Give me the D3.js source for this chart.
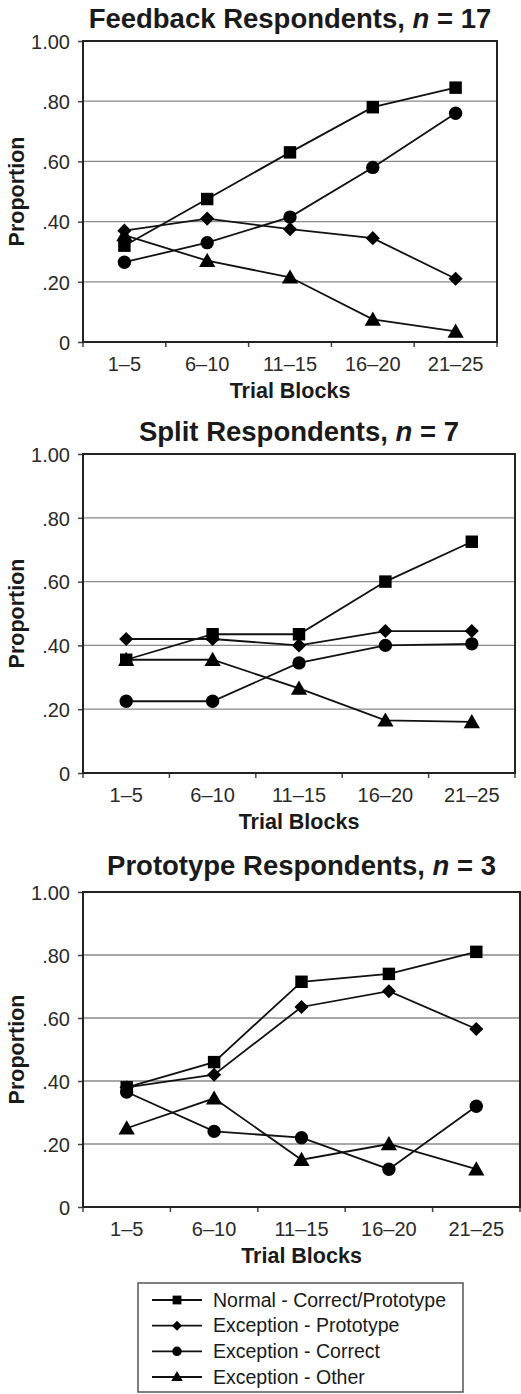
<!DOCTYPE html>
<html>
<head>
<meta charset="utf-8">
<script src="https://cdn.jsdelivr.net/npm/d3@7"></script>
<style>
  body { margin: 0; background: #fff; }
  svg { display: block; font-family: "Liberation Sans", Arial, sans-serif; }
</style>
</head>
<body>
<script>
// data
const blocks = ["1–5", "6–10", "11–15", "16–20", "21–25"];
const yTicks = [0, 0.2, 0.4, 0.6, 0.8, 1.0];
const yTickLabels = ["0", ".20", ".40", ".60", ".80", "1.00"];
const seriesNames = ["Normal - Correct/Prototype", "Exception - Prototype", "Exception - Correct", "Exception - Other"];

const feedbackNormal    = [0.32, 0.475, 0.63, 0.78, 0.845];
const feedbackExcProto  = [0.37, 0.41, 0.375, 0.345, 0.21];
const feedbackExcCorr   = [0.265, 0.33, 0.415, 0.58, 0.76];
const feedbackExcOther  = [0.355, 0.27, 0.215, 0.075, 0.035];

const splitNormal    = [0.355, 0.435, 0.435, 0.60, 0.725];
const splitExcProto  = [0.42, 0.42, 0.40, 0.445, 0.445];
const splitExcCorr   = [0.225, 0.225, 0.345, 0.40, 0.405];
const splitExcOther  = [0.355, 0.355, 0.265, 0.165, 0.16];

const protoNormal    = [0.38, 0.46, 0.715, 0.74, 0.81];
const protoExcProto  = [0.38, 0.42, 0.635, 0.685, 0.565];
const protoExcCorr   = [0.365, 0.24, 0.22, 0.12, 0.32];
const protoExcOther  = [0.25, 0.345, 0.15, 0.20, 0.12];

const panels = [
  { title: "Feedback Respondents,", n: "17", left: 83, right: 497, top: 41, bottom: 342, titleY: 28,
    series: [feedbackNormal, feedbackExcProto, feedbackExcCorr, feedbackExcOther] },
  { title: "Split Respondents,", n: "7", left: 83, right: 515, top: 454, bottom: 773, titleY: 441,
    series: [splitNormal, splitExcProto, splitExcCorr, splitExcOther] },
  { title: "Prototype Respondents,", n: "3", left: 83, right: 520, top: 892, bottom: 1207, titleY: 875,
    series: [protoNormal, protoExcProto, protoExcCorr, protoExcOther] }
];

const W = 521, H = 1394;
const ink = "#1a1a1a";

const svg = d3.select("body").append("svg")
  .attr("width", W)
  .attr("height", H);

// marker shapes: square, diamond, circle, triangle
const shapes = [
  s => d3.symbol(d3.symbolSquare, 155 * s)(),
  s => d3.symbol(d3.symbolSquare, 100 * s)(),
  s => d3.symbol(d3.symbolCircle, 140 * s)(),
  s => d3.symbol(d3.symbolTriangle, 115 * s)()
];
const rotations = [0, 45, 0, 0];
const triNudge = [0, 0, 0, 1.5];

panels.forEach(p => {
  const x = d3.scaleBand().domain(blocks).range([p.left, p.right]).padding(0);
  const y = d3.scaleLinear().domain([0, 1]).range([p.bottom, p.top]);
  const cx = d => x(d) + x.bandwidth() / 2;

  const g = svg.append("g");

  // gridlines
  g.append("g").selectAll("line")
    .data(yTicks.filter(v => v > 0 && v < 1))
    .join("line")
    .attr("x1", p.left).attr("x2", p.right)
    .attr("y1", d => y(d)).attr("y2", d => y(d))
    .attr("stroke", "#8a8a8a")
    .attr("stroke-width", 1.3);

  // y axis
  const yAxis = d3.axisLeft(y)
    .tickValues(yTicks)
    .tickFormat((d, i) => yTickLabels[i])
    .tickSize(5)
    .tickPadding(8);
  const ya = g.append("g")
    .attr("transform", `translate(${p.left},0)`)
    .call(yAxis);
  ya.select(".domain").remove();
  ya.selectAll("line").attr("stroke", "#444").attr("stroke-width", 1.5);
  ya.selectAll("text")
    .attr("font-size", 20)
    .attr("fill", "#2a2a2a")
    .attr("dy", "0.36em");

  // x axis labels at band centres
  const xAxis = d3.axisBottom(x).tickSize(0).tickPadding(15);
  const xa = g.append("g")
    .attr("transform", `translate(0,${p.bottom})`)
    .call(xAxis);
  xa.select(".domain").remove();
  xa.selectAll("text")
    .attr("font-size", 20)
    .attr("fill", "#2a2a2a");

  // x ticks at band boundaries
  const bounds = blocks.map(b => x(b)).concat([p.right]);
  g.append("g").selectAll("line")
    .data(bounds)
    .join("line")
    .attr("x1", d => d).attr("x2", d => d)
    .attr("y1", p.bottom).attr("y2", p.bottom + 5)
    .attr("stroke", "#444")
    .attr("stroke-width", 1.5);

  // frame
  g.append("rect")
    .attr("x", p.left).attr("y", p.top)
    .attr("width", p.right - p.left).attr("height", p.bottom - p.top)
    .attr("fill", "none")
    .attr("stroke", "#222")
    .attr("stroke-width", 2);

  // title
  const t = g.append("text")
    .attr("x", (p.left + p.right) / 2)
    .attr("y", p.titleY)
    .attr("text-anchor", "middle")
    .attr("font-size", 27.5)
    .attr("font-weight", "bold")
    .attr("fill", ink);
  t.append("tspan").text(p.title + "  ");
  t.append("tspan").attr("font-style", "italic").text("n");
  t.append("tspan").text(" = " + p.n);

  // axis titles
  g.append("text")
    .attr("x", (p.left + p.right) / 2)
    .attr("y", p.bottom + 56)
    .attr("text-anchor", "middle")
    .attr("font-size", 21.5)
    .attr("font-weight", "bold")
    .attr("fill", ink)
    .text("Trial Blocks");

  g.append("text")
    .attr("transform", `translate(24,${(p.top + p.bottom) / 2}) rotate(-90)`)
    .attr("text-anchor", "middle")
    .attr("font-size", 21.5)
    .attr("font-weight", "bold")
    .attr("fill", ink)
    .text("Proportion");

  // series lines and markers
  const line = d3.line()
    .x((d, i) => cx(blocks[i]))
    .y(d => y(d));

  p.series.forEach((vals, si) => {
    g.append("path")
      .datum(vals)
      .attr("d", line)
      .attr("fill", "none")
      .attr("stroke", "#111")
      .attr("stroke-width", 1.8);
  });

  p.series.forEach((vals, si) => {
    g.append("g").selectAll("path")
      .data(vals)
      .join("path")
      .attr("d", shapes[si](1))
      .attr("transform", (d, i) => `translate(${cx(blocks[i])},${y(d) + triNudge[si]}) rotate(${rotations[si]})`)
      .attr("fill", "#000");
  });
});

// legend
const lg = svg.append("g");
const legX = 138, legY = 1283, legW = 325, legH = 109;
lg.append("rect")
  .attr("x", legX).attr("y", legY)
  .attr("width", legW).attr("height", legH)
  .attr("fill", "#fff")
  .attr("stroke", "#555")
  .attr("stroke-width", 1.5);

const rowY = d3.scalePoint().domain(seriesNames).range([legY + 17, legY + 94]);
seriesNames.forEach((name, si) => {
  const yy = rowY(name);
  lg.append("line")
    .attr("x1", 152).attr("x2", 202)
    .attr("y1", yy).attr("y2", yy)
    .attr("stroke", "#111")
    .attr("stroke-width", 1.8);
  lg.append("path")
    .attr("d", shapes[si](0.5))
    .attr("transform", `translate(177,${yy + triNudge[si] * 0.5}) rotate(${rotations[si]})`)
    .attr("fill", "#000");
  lg.append("text")
    .attr("x", 213)
    .attr("y", yy)
    .attr("dy", "0.35em")
    .attr("font-size", 19.5)
    .attr("fill", ink)
    .text(name);
});
</script>
</body>
</html>
